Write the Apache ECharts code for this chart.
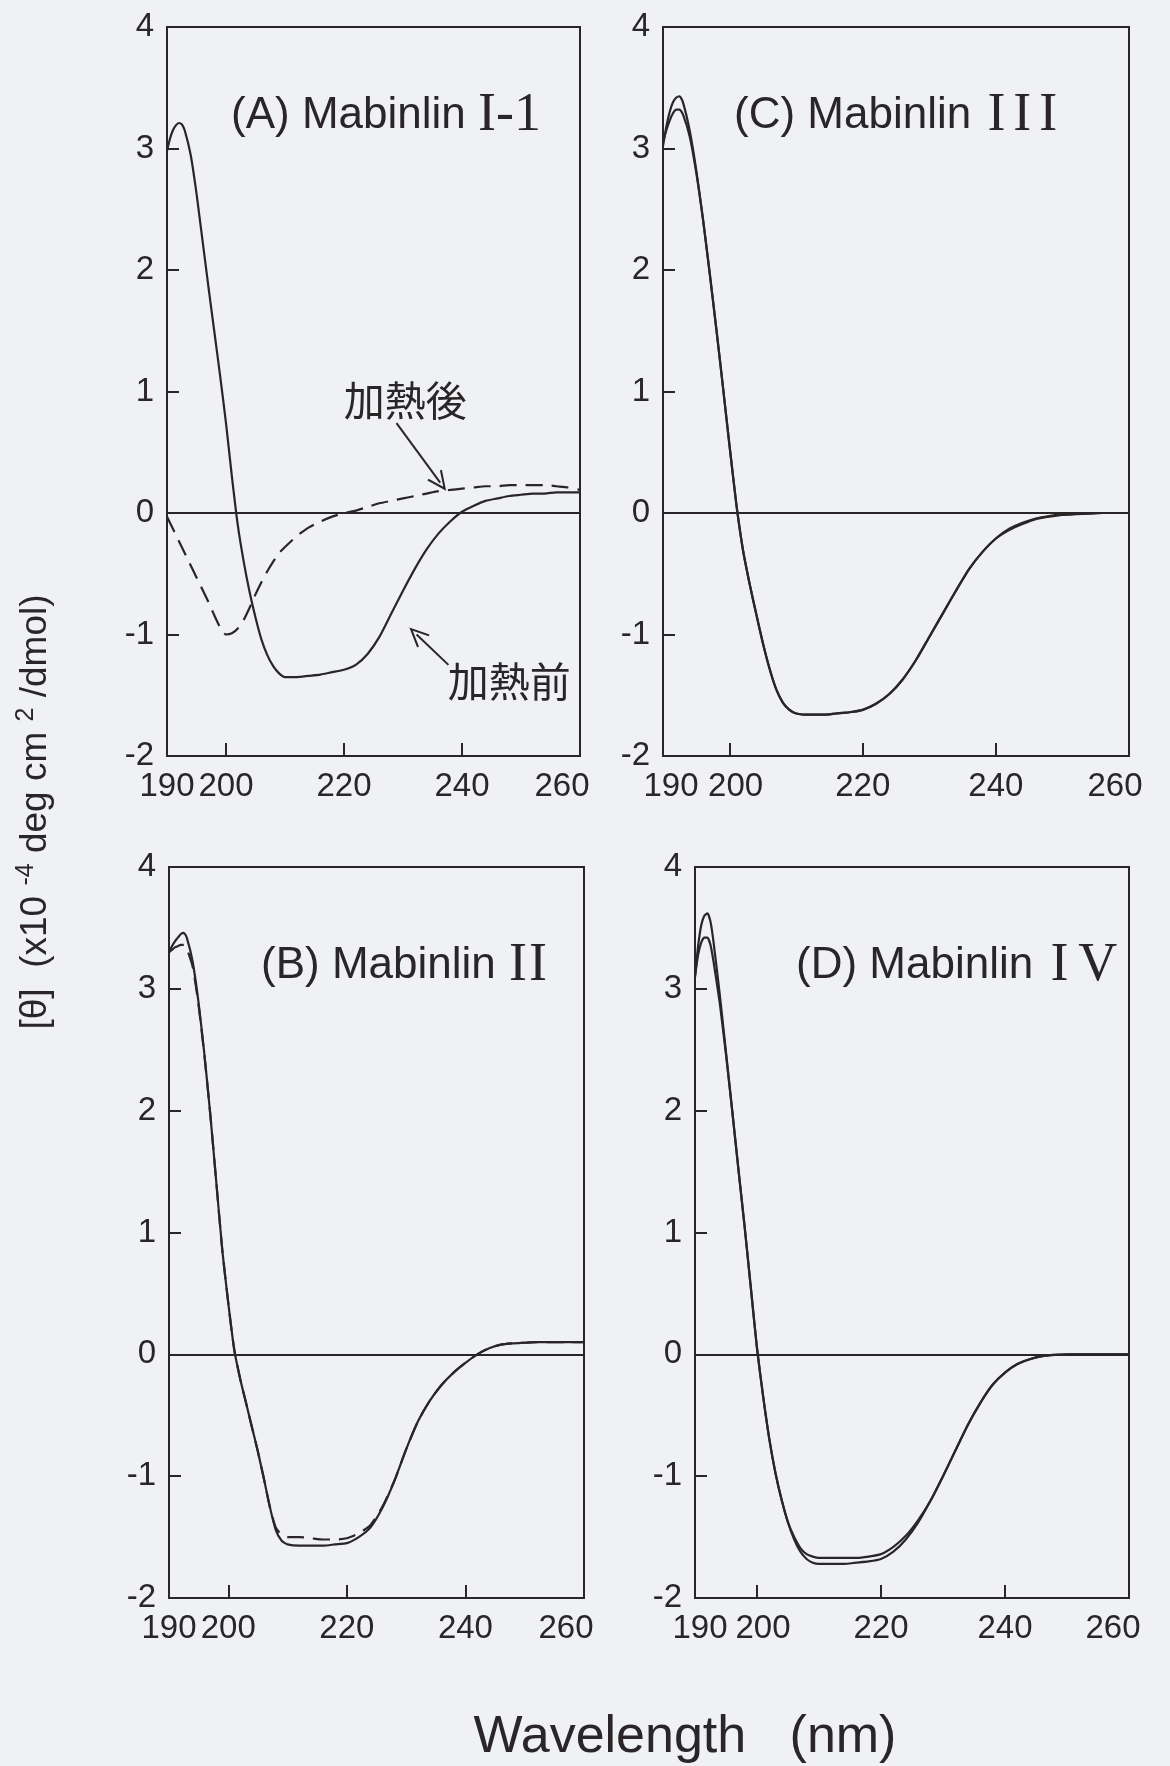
<!DOCTYPE html>
<html>
<head>
<meta charset="utf-8">
<script src="https://cdn.jsdelivr.net/npm/echarts@6/dist/echarts.min.js"></script>
<style>
  html, body { margin: 0; padding: 0; background: #f0f1f4; }
  #chart { width: 1170px; height: 1766px; }
</style>
</head>
<body>
<div id="chart"></div>
<script>
// Wavelength grid (nm) shared by every CD spectrum
const wavelength = [190,190.5,191,191.5,192,192.5,193,194,195,196,197,198,199,200,201,202,203,204,205,206,207,208,209,210,212,214,216,218,220,222,224,226,228,230,232,234,236,238,240,242,244,246,248,250,252,254,256,258,260];

// Mean residue ellipticity [θ] (x10^-4 deg cm^2/dmol), before / after heating
const mabinlinI1Before = [2.98,3.08,3.15,3.19,3.21,3.2,3.15,2.95,2.63,2.25,1.87,1.5,1.13,0.74,0.3,-0.1,-0.4,-0.65,-0.86,-1.04,-1.17,-1.26,-1.32,-1.35,-1.35,-1.34,-1.33,-1.31,-1.29,-1.25,-1.16,-1.02,-0.83,-0.64,-0.46,-0.3,-0.17,-0.07,0.01,0.06,0.1,0.12,0.14,0.15,0.16,0.16,0.17,0.17,0.17];
const mabinlinI1After  = [-0.03,-0.08,-0.13,-0.18,-0.23,-0.28,-0.33,-0.43,-0.53,-0.63,-0.73,-0.84,-0.94,-1.0,-0.99,-0.95,-0.88,-0.78,-0.67,-0.57,-0.48,-0.4,-0.33,-0.28,-0.19,-0.12,-0.07,-0.03,0.0,0.02,0.05,0.08,0.1,0.12,0.14,0.16,0.18,0.19,0.2,0.21,0.22,0.22,0.23,0.23,0.23,0.23,0.22,0.21,0.19];

const mabinlinIIBefore = [3.3,3.35,3.39,3.42,3.45,3.46,3.42,3.22,2.88,2.45,1.95,1.4,0.85,0.42,0.04,-0.2,-0.4,-0.6,-0.8,-1.02,-1.25,-1.44,-1.53,-1.56,-1.57,-1.57,-1.57,-1.56,-1.55,-1.5,-1.42,-1.26,-1.04,-0.78,-0.55,-0.38,-0.25,-0.15,-0.07,0.0,0.05,0.08,0.09,0.095,0.1,0.1,0.1,0.1,0.1];
const mabinlinIIAfter  = [3.3,3.32,3.34,3.35,3.36,3.36,3.33,3.18,2.86,2.44,1.95,1.4,0.85,0.42,0.04,-0.2,-0.4,-0.6,-0.8,-1.02,-1.25,-1.42,-1.48,-1.5,-1.5,-1.51,-1.52,-1.52,-1.51,-1.47,-1.4,-1.25,-1.04,-0.78,-0.55,-0.38,-0.25,-0.15,-0.07,0.0,0.05,0.08,0.09,0.095,0.1,0.1,0.1,0.1,0.1];

const mabinlinIIIBefore = [3.02,3.18,3.3,3.38,3.42,3.43,3.38,3.15,2.82,2.42,1.98,1.52,1.04,0.55,0.08,-0.3,-0.58,-0.83,-1.07,-1.28,-1.45,-1.56,-1.62,-1.65,-1.66,-1.66,-1.65,-1.64,-1.62,-1.57,-1.49,-1.37,-1.21,-1.02,-0.83,-0.64,-0.46,-0.32,-0.21,-0.14,-0.09,-0.05,-0.03,-0.015,-0.01,-0.005,0,0,0];
const mabinlinIIIAfter  = [3.05,3.15,3.23,3.29,3.32,3.32,3.28,3.1,2.8,2.42,1.98,1.52,1.04,0.55,0.08,-0.3,-0.58,-0.83,-1.07,-1.28,-1.45,-1.56,-1.62,-1.65,-1.66,-1.66,-1.65,-1.64,-1.62,-1.57,-1.49,-1.37,-1.21,-1.02,-0.83,-0.64,-0.46,-0.32,-0.21,-0.13,-0.08,-0.045,-0.025,-0.012,-0.008,-0.004,0,0,0];

const mabinlinIVBefore = [3.1,3.35,3.52,3.6,3.62,3.55,3.38,2.95,2.48,2.0,1.52,1.05,0.55,0.05,-0.35,-0.7,-0.98,-1.2,-1.38,-1.52,-1.62,-1.68,-1.71,-1.72,-1.72,-1.72,-1.71,-1.7,-1.68,-1.62,-1.52,-1.38,-1.2,-1.0,-0.79,-0.58,-0.4,-0.25,-0.15,-0.08,-0.04,-0.015,-0.005,0,0,0,0,0,0];
const mabinlinIVAfter  = [3.1,3.28,3.38,3.42,3.42,3.36,3.22,2.88,2.46,2.0,1.52,1.05,0.55,0.05,-0.35,-0.7,-0.98,-1.2,-1.38,-1.5,-1.59,-1.64,-1.66,-1.67,-1.67,-1.67,-1.67,-1.66,-1.64,-1.58,-1.49,-1.36,-1.2,-1.0,-0.79,-0.58,-0.4,-0.25,-0.15,-0.08,-0.04,-0.015,-0.005,0,0,0,0,0,0];

// Axis ticks and labels (x labels split over two label rows so neighbours never get culled)
const xTickLabelsA = [190, 220, 260];
const xTickLabelsB = [200, 240];
const xTickMarks = [200, 220, 240];
const yTickLabels = [-2, -1, 0, 1, 2, 3, 4];
const yTickMarks = [-1, 1, 2, 3];

// Panel captions: [prefix, roman numeral]
const panelTitles = [
  ['(A) Mabinlin ', 'I-1'],
  ['(C) Mabinlin ', 'III'],
  ['(B) Mabinlin ', 'II'],
  ['(D) Mabinlin ', 'IV']
];

// Heating annotations in panel A
const afterLabel = { text: '加熱後', at: [230.4, 0.93] };
const beforeLabel = { text: '加熱前', at: [248, -1.39] };
const afterArrow = [[228.9, 0.74], [236.3, 0.25]];
const beforeArrow = [[237.7, -1.25], [232.3, -1.0]];

const INK = '#2a2628';
const SANS = '"Liberation Sans", Arial, Helvetica, sans-serif';
const SERIF = '"Liberation Serif", "Times New Roman", serif';
const CJK = '"Noto Sans CJK JP", sans-serif';
const TICK_FONT = 33;

const pairs = arr => wavelength.map((w, i) => [w, arr[i]]);

// layout of the four panels (A, C top row; B, D bottom row)
// labelShift: horizontal nudges (px) of the 190, 200 and 260 labels
const panels = [
  { grid: { left: 167, top: 27, width: 413, height: 729 }, titleAt: [231, 116], romanPad: 0, labelShift: [0, 0, -18], before: mabinlinI1Before, after: mabinlinI1After, dashed: true },
  { grid: { left: 663, top: 27, width: 466, height: 729 }, titleAt: [734, 116], romanPad: 4, labelShift: [8, 6, -14], before: mabinlinIIIBefore, after: mabinlinIIIAfter, dashed: false },
  { grid: { left: 169, top: 867, width: 415, height: 731 }, titleAt: [261, 966], romanPad: 1, labelShift: [0, 0, -18], before: mabinlinIIBefore, after: mabinlinIIAfter, dashed: true },
  { grid: { left: 695, top: 867, width: 434, height: 731 }, titleAt: [796, 966], romanPad: 5, labelShift: [5, 6, -16], before: mabinlinIVBefore, after: mabinlinIVAfter, dashed: false }
];

const grids = [], xAxes = [], yAxes = [], series = [], graphics = [];

// chevron-shaped open arrow head, tip at the top
const arrowHead = 'path://M0,0 L11,22 L8.6,22.8 L0,5.4 L-8.6,22.8 L-11,22 Z';

const tickText = { color: INK, fontSize: TICK_FONT, fontFamily: SANS };
const noOverlapRules = { showMinLabel: true, showMaxLabel: true, hideOverlap: false };

// rich style that nudges a centred label left (negative) or right (positive)
const nudged = dx => Object.assign({ padding: dx >= 0 ? [0, 0, 0, 2 * dx] : [0, -2 * dx, 0, 0] }, tickText);

panels.forEach((p, i) => {
  grids.push(Object.assign({ show: true, borderColor: INK, borderWidth: 2, backgroundColor: 'transparent' }, p.grid));
  // main wavelength axis: frame line, ticks, outer labels
  xAxes.push({
    type: 'value', gridIndex: i, min: 190, max: 260, interval: 10, position: 'bottom', offset: 0,
    axisLine: { show: true, onZero: false, lineStyle: { color: INK, width: 2 } },
    axisTick: { show: true, inside: true, length: 13, customValues: xTickMarks, lineStyle: { color: INK, width: 2 } },
    axisLabel: Object.assign({
      show: true, customValues: xTickLabelsA, margin: 14,
      formatter: v => v === 190 ? '{l|190}' : v === 260 ? '{r|260}' : '{n|' + v + '}',
      rich: { n: Object.assign({}, tickText), l: nudged(p.labelShift[0]), r: nudged(p.labelShift[2]) }
    }, tickText, noOverlapRules),
    splitLine: { show: false }
  });
  // companion axis on the same scale carrying the remaining labels
  xAxes.push({
    type: 'value', gridIndex: i, min: 190, max: 260, interval: 10, position: 'bottom', offset: 0,
    axisLine: { show: false }, axisTick: { show: false },
    axisLabel: Object.assign({
      show: true, customValues: xTickLabelsB, margin: 14,
      formatter: v => v === 200 ? '{m|200}' : '{n|' + v + '}',
      rich: { n: Object.assign({}, tickText), m: nudged(p.labelShift[1]) }
    }, tickText, noOverlapRules),
    splitLine: { show: false }
  });
  yAxes.push({
    type: 'value', gridIndex: i, min: -2, max: 4, interval: 1,
    axisLine: { show: true, onZero: false, lineStyle: { color: INK, width: 2 } },
    axisTick: { show: true, inside: true, length: 12, customValues: yTickMarks, lineStyle: { color: INK, width: 2 } },
    axisLabel: Object.assign({ show: true, customValues: yTickLabels, margin: 13 }, tickText, noOverlapRules),
    splitLine: { show: false }
  });

  const xi = 2 * i;
  const before = {
    type: 'line', name: '加熱前', xAxisIndex: xi, yAxisIndex: i, data: pairs(p.before),
    showSymbol: false, smooth: 0.2, silent: true,
    lineStyle: { color: INK, width: 2.2 },
    markLine: {
      silent: true, symbol: 'none', animation: false, label: { show: false },
      lineStyle: { color: INK, width: 2, type: 'solid' },
      data: [{ yAxis: 0 }]
    },
    z: 3
  };
  const after = {
    type: 'line', name: '加熱後', xAxisIndex: xi, yAxisIndex: i, data: pairs(p.after),
    showSymbol: false, smooth: 0.2, silent: true,
    lineStyle: { color: INK, width: 2.2, type: p.dashed ? [17, 9] : 'solid' },
    z: 3
  };

  if (i === 0) {
    after.markLine = {
      silent: true, animation: false, symbol: 'none', label: { show: false },
      lineStyle: { color: INK, width: 2, type: 'solid' },
      data: [afterArrow, beforeArrow].map(seg => [
        { coord: seg[0], symbol: 'none' },
        { coord: seg[1], symbol: arrowHead, symbolSize: [18, 20] }
      ])
    };
    after.markPoint = {
      silent: true, animation: false, symbol: 'circle', symbolSize: 1,
      itemStyle: { color: 'rgba(0,0,0,0)' },
      label: { show: true, position: 'inside', color: INK, fontSize: 41, fontFamily: CJK },
      data: [afterLabel, beforeLabel].map(l => ({ coord: l.at, value: l.text, label: { formatter: l.text } }))
    };
  }
  series.push(before, after);

  // caption: sans-serif prefix followed by a serif roman numeral
  const t = panelTitles[i];
  const romanTokens = t[1].split('').map(ch => '{r|' + ch + '}').join('');
  graphics.push({
    type: 'text', x: p.titleAt[0], y: p.titleAt[1], silent: true,
    style: {
      text: '{s|' + t[0] + '}' + romanTokens,
      verticalAlign: 'middle', align: 'left', fill: INK,
      rich: {
        s: { fontFamily: SANS, fontSize: 44, fill: INK, lineHeight: 56 },
        r: { fontFamily: SERIF, fontSize: 54, fill: INK, lineHeight: 56, padding: [0, p.romanPad, 0, p.romanPad] }
      }
    }
  });
});

// shared axis titles
graphics.push({
  type: 'text', x: 36, y: 812, rotation: Math.PI / 2, silent: true,
  style: {
    text: '{a|[θ]  (x10 }{s|-4}{a| deg cm }{s|2}{a| /dmol)}',
    align: 'center', verticalAlign: 'middle', fill: INK,
    rich: {
      a: { fontFamily: SANS, fontSize: 37, fill: INK, lineHeight: 44 },
      s: { fontFamily: SANS, fontSize: 25, fill: INK, verticalAlign: 'top', lineHeight: 44 }
    }
  }
});
graphics.push({
  type: 'text', x: 685, y: 1738, silent: true,
  style: {
    text: 'Wavelength   (nm)', align: 'center', verticalAlign: 'middle',
    fill: INK, fontFamily: SANS, fontSize: 52
  }
});

const chart = echarts.init(document.getElementById('chart'), null, { renderer: 'canvas' });
chart.setOption({
  animation: false,
  backgroundColor: '#f0f1f4',
  grid: grids,
  xAxis: xAxes,
  yAxis: yAxes,
  series: series,
  graphic: graphics
});
</script>
</body>
</html>
